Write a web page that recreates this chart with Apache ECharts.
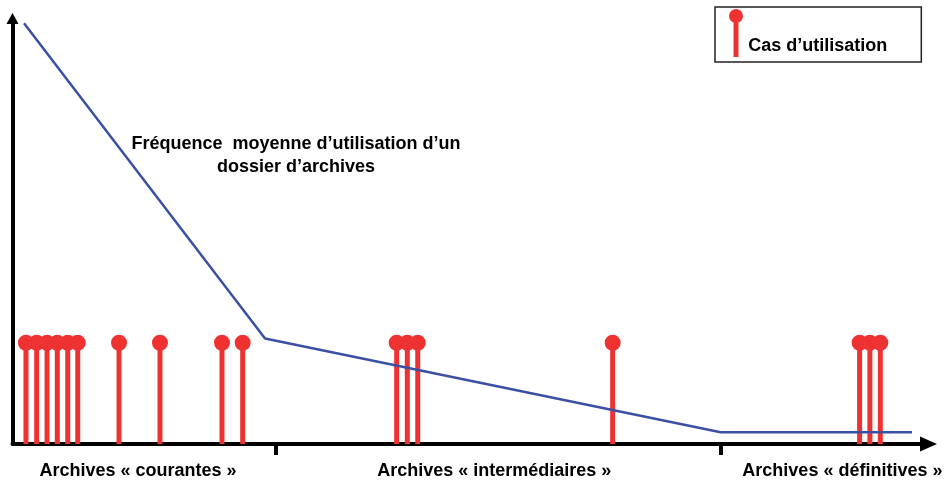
<!DOCTYPE html>
<html>
<head>
<meta charset="utf-8">
<script src="https://cdn.jsdelivr.net/npm/echarts@6/dist/echarts.min.js"></script>
<style>
  html, body { margin: 0; padding: 0; background: #fff; }
  #chart { width: 947px; height: 484px; }
</style>
</head>
<body>
<div id="chart"></div>
<script>
// x: time along the life of a file (0-100), y: relative frequency (0-100)
const useDates = [1.47, 2.64, 3.77, 4.89, 6.03, 7.12, 11.63, 16.1, 22.87, 25.13,
  41.94, 43.1, 44.24, 65.52, 92.48, 93.6, 94.74];
const useLevel = 23.8;
const freqX = [1.26, 27.57, 77.31, 98.2];
const freqY = [98.9, 24.8, 2.75, 2.75];
const phaseBounds = [28.78, 77.3];
const phaseCenters = [13.7, 52.6, 90.6];
const phaseNames = ['Archives « courantes »', 'Archives « intermédiaires »', 'Archives « définitives »'];
const legendName = 'Cas d’utilisation';
const noteText = 'Fréquence  moyenne d’utilisation d’un\ndossier d’archives';

const RED = '#ee3232';
const BLUE = '#3b4fa3';
const FONT = '"Liberation Sans", Arial, sans-serif';

const chart = echarts.init(document.getElementById('chart'));

const option = {
  animation: false,
  backgroundColor: '#fff',
  grid: { left: 12.5, right: 18.5, top: 18.5, bottom: 40 },
  legend: {
    data: [{
      name: legendName,
      icon: 'path://M7,0A7,7,0,1,1,6.99,0ZM4.5,10L9.5,10L9.5,48L4.5,48Z'
    }],
    left: 715,
    top: 7,
    padding: [2, 34, 5, 14],
    itemWidth: 14.6,
    itemHeight: 48,
    selectedMode: false,
    borderColor: '#222',
    borderWidth: 1.5,
    formatter: name => '{t|' + name + '}',
    textStyle: {
      rich: {
        t: {
          fontFamily: FONT, fontSize: 18, fontWeight: 'bold', color: '#000',
          padding: [27, 0, 0, 0]
        }
      }
    }
  },
  xAxis: {
    type: 'value',
    min: 0,
    max: 100,
    splitLine: { show: false },
    axisLine: {
      lineStyle: { color: '#000', width: 4 },
      symbol: ['none', 'triangle'],
      symbolSize: [15, 17]
    },
    axisTick: {
      customValues: phaseBounds,
      length: 11,
      lineStyle: { color: '#000', width: 4 }
    },
    axisLabel: {
      customValues: phaseCenters,
      margin: 18,
      fontFamily: FONT, fontSize: 18, fontWeight: 'bold', color: '#000',
      formatter: v => phaseNames[phaseCenters.indexOf(v)] || ''
    }
  },
  yAxis: {
    type: 'value',
    min: 0,
    max: 100,
    splitLine: { show: false },
    axisTick: { show: false },
    axisLabel: { show: false },
    axisLine: {
      show: true,
      lineStyle: { color: '#000', width: 4 },
      symbol: ['none', 'triangle'],
      symbolSize: [12, 11]
    }
  },
  graphic: [{
    type: 'text',
    x: 296,
    y: 156,
    style: {
      text: noteText,
      textAlign: 'center',
      textVerticalAlign: 'middle',
      lineHeight: 23,
      font: 'bold 18px ' + FONT,
      fill: '#000'
    }
  }],
  series: [
    {
      name: legendName,
      type: 'bar',
      barWidth: 5,
      itemStyle: { color: RED },
      z: 2,
      data: useDates.map(x => [x, useLevel])
    },
    {
      name: legendName,
      type: 'scatter',
      symbol: 'circle',
      symbolSize: 16,
      itemStyle: { color: RED, opacity: 1 },
      z: 3,
      data: useDates.map(x => [x, useLevel])
    },
    {
      name: 'frequence',
      type: 'line',
      showSymbol: false,
      lineStyle: { color: BLUE, width: 2.5 },
      z: 4,
      data: freqX.map((x, i) => [x, freqY[i]])
    }
  ]
};

chart.setOption(option);
</script>
</body>
</html>
